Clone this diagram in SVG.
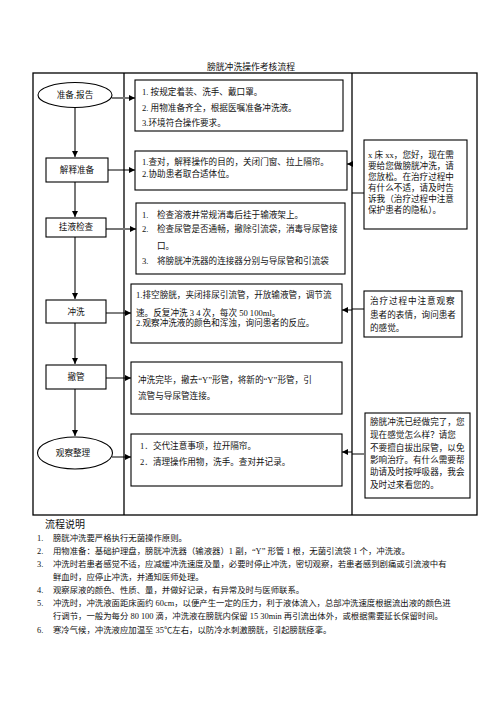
<svg xmlns="http://www.w3.org/2000/svg" width="496" height="702" viewBox="0 0 496 702">
<style>
text{font-family:"Liberation Serif","Noto Sans CJK SC",serif;font-size:8.6px;fill:#111}
.c{text-anchor:middle}
.frame{fill:none;stroke:#000;stroke-width:1.3}
.box{fill:#fff;stroke:#000;stroke-width:1.1}
.g{stroke:#777;stroke-width:2;fill:none}
.k{stroke:#000;stroke-width:1;fill:none}
.b{font-size:8.4px}
</style>
<defs>
<marker id="a" markerUnits="userSpaceOnUse" markerWidth="7" markerHeight="7" refX="6" refY="3.5" orient="auto"><path d="M0,0.5 L6,3.5 L0,6.5 Z" fill="#000"/></marker>
</defs>
<rect width="496" height="702" fill="#fff"/>
<text class="c" x="251" y="70" style="font-size:8.8px">膀胱冲洗操作考核流程</text>
<g id="frame">
<rect class="frame" x="33" y="73" width="444" height="442"/>
<line class="frame" x1="124" y1="73" x2="124" y2="515"/>
<line class="frame" x1="352" y1="73" x2="352" y2="515"/>
</g>
<g id="connectors">
<line class="g" x1="75" y1="107" x2="75" y2="157" marker-end="url(#a)"/>
<line class="g" x1="75" y1="182" x2="75" y2="217" marker-end="url(#a)"/>
<line class="g" x1="75" y1="237" x2="75" y2="299" marker-end="url(#a)"/>
<line class="g" x1="75" y1="323" x2="75" y2="364" marker-end="url(#a)"/>
<line class="g" x1="75" y1="389" x2="75" y2="436" marker-end="url(#a)"/>
<line class="g" x1="112" y1="98" x2="135" y2="98" marker-end="url(#a)"/>
<line class="k" x1="108" y1="170" x2="135" y2="170" marker-end="url(#a)"/>
<line class="g" x1="106" y1="229" x2="136" y2="229" marker-end="url(#a)"/>
<line class="k" x1="106" y1="313" x2="131" y2="313" marker-end="url(#a)"/>
<line class="k" x1="106" y1="378" x2="131" y2="378" marker-end="url(#a)"/>
<line class="k" x1="112" y1="457" x2="131" y2="457" marker-end="url(#a)"/>
<line class="k" x1="352" y1="164" x2="347" y2="164" marker-end="url(#a)"/>
<line class="k" x1="352" y1="310" x2="342" y2="310" marker-end="url(#a)"/>
<line class="k" x1="352" y1="452" x2="342" y2="452" marker-end="url(#a)"/>
<line class="k" x1="352" y1="193" x2="364" y2="193"/>
<line class="k" x1="352" y1="309" x2="364" y2="309"/>
<line class="k" x1="352" y1="454" x2="364" y2="454"/>
</g>
<g id="n1"><ellipse class="box" cx="75" cy="95" rx="37" ry="12.5"/><text class="c" x="75" y="98">准备,报告</text></g>
<g id="n2"><rect class="box" x="46" y="158" width="62" height="24"/><text class="c" x="77" y="173">解释准备</text></g>
<g id="n3"><rect class="box" x="46" y="218" width="60" height="19"/><text class="c" x="76" y="230">挂液检查</text></g>
<g id="n4"><rect class="box" x="46" y="300" width="60" height="23"/><text class="c" x="76" y="315">冲洗</text></g>
<g id="n5"><rect class="box" x="46" y="365" width="60" height="24"/><text class="c" x="76" y="380">撤管</text></g>
<g id="n6"><ellipse class="box" cx="75" cy="453" rx="37.5" ry="16"/><text class="c" x="73" y="456">观察整理</text></g>
<g id="b1"><rect class="box" x="135" y="80" width="208" height="51"/>
<text x="142" y="95">1. 按规定着装、洗手、戴口罩。</text>
<text x="142" y="111">2. 用物准备齐全，根据医嘱准备冲洗液。</text>
<text x="142" y="126">3.环境符合操作要求。</text></g>
<g id="b2"><rect class="box" x="135" y="151" width="212" height="39"/>
<text x="142" y="165">1.查对，解释操作的目的，关闭门窗、拉上隔帘。</text>
<text x="142" y="177">2.协助患者取合适体位。</text></g>
<g id="b3"><rect class="box" x="136" y="203" width="209" height="71"/>
<text x="142" y="218">1.</text><text x="157" y="218">检查溶液并常规消毒后挂于输液架上。</text>
<text x="142" y="232">2.</text><text x="157" y="232">检查尿管是否通畅，撤除引流袋，消毒导尿管接</text>
<text x="157" y="249">口。</text>
<text x="142" y="264">3.</text><text x="157" y="264">将膀胱冲洗器的连接器分别与导尿管和引流袋</text></g>
<g id="b4"><rect class="box" x="131" y="284" width="211" height="59"/>
<text x="136" y="298">1.排空膀胱，夹闭排尿引流管，开放输液管，调节流</text>
<text x="136" y="316">速。反复冲洗 3 4 次，每次 50 100ml。</text>
<text x="136" y="326">2.观察冲洗液的颜色和浑浊，询问患者的反应。</text></g>
<g id="b5"><rect class="box" x="131" y="362" width="211" height="52"/>
<text x="138" y="383">冲洗完毕，撤去“Y”形管，将新的“Y”形管，引</text>
<text x="138" y="399">流管与导尿管连接。</text></g>
<g id="b6"><rect class="box" x="131" y="434" width="211" height="52"/>
<text x="140" y="449">1．交代注意事项，拉开隔帘。</text>
<text x="140" y="465">2．清理操作用物，洗手。查对并记录。</text></g>
<g id="r1"><rect class="box" x="364" y="140" width="103" height="89"/>
<text x="368" y="158">x 床 xx，您好，现在需</text>
<text x="368" y="169">要给您做膀胱冲洗，请</text>
<text x="368" y="180">您放松。在治疗过程中</text>
<text x="368" y="191">有什么不适，请及时告</text>
<text x="368" y="202">诉我（治疗过程中注意</text>
<text x="368" y="213">保护患者的隐私）。</text></g>
<g id="r2"><rect class="box" x="364" y="291" width="98" height="46"/>
<text x="370" y="304" style="letter-spacing:0.9px">治疗过程中注意观察</text>
<text x="370" y="318">患者的表情，询问患者</text>
<text x="370" y="331">的感觉。</text></g>
<g id="r3"><rect class="box" x="365" y="413" width="105" height="85"/>
<text x="370" y="425">膀胱冲洗已经做完了，您</text>
<text x="370" y="438">现在感觉怎么样？请您</text>
<text x="370" y="451">不要擅自拔出尿管，以免</text>
<text x="370" y="463">影响治疗。有什么需要帮</text>
<text x="370" y="475">助请及时按呼吸器，我会</text>
<text x="370" y="488">及时过来看您的。</text></g>
<g id="notes">
<text x="45" y="528" style="font-size:10px">流程说明</text>
<text class="b" x="37" y="541">1.</text><text class="b" x="53" y="541">膀胱冲洗要严格执行无菌操作原则。</text>
<text class="b" x="37" y="554">2.</text><text class="b" x="53" y="554">用物准备：基础护理盘，膀胱冲洗器（输液器）1 副，“Y” 形管 1 根，无菌引流袋 1 个，冲洗液。</text>
<text class="b" x="37" y="567">3.</text><text class="b" x="53" y="567">冲洗时若患者感觉不适，应减缓冲洗速度及量，必要时停止冲洗，密切观察，若患者感到剧痛或引流液中有</text>
<text class="b" x="53" y="580">鲜血时，应停止冲洗，并通知医师处理。</text>
<text class="b" x="37" y="593">4.</text><text class="b" x="53" y="593">观察尿液的颜色、性质、量，并做好记录，有异常及时与医师联系。</text>
<text class="b" x="37" y="606">5.</text><text class="b" x="53" y="606">冲洗时，冲洗液面距床面约 60cm，以便产生一定的压力，利于液体流入，总部冲洗速度根据流出液的颜色进</text>
<text class="b" x="53" y="619">行调节，一般为每分 80 100 滴，冲洗液在膀胱内保留 15 30min 再引流出体外，或根据需要延长保留时间。</text>
<text class="b" x="37" y="633">6.</text><text class="b" x="53" y="633">寒冷气候，冲洗液应加温至 35℃左右，以防冷水刺激膀胱，引起膀胱痉挛。</text>
</g>
</svg>
